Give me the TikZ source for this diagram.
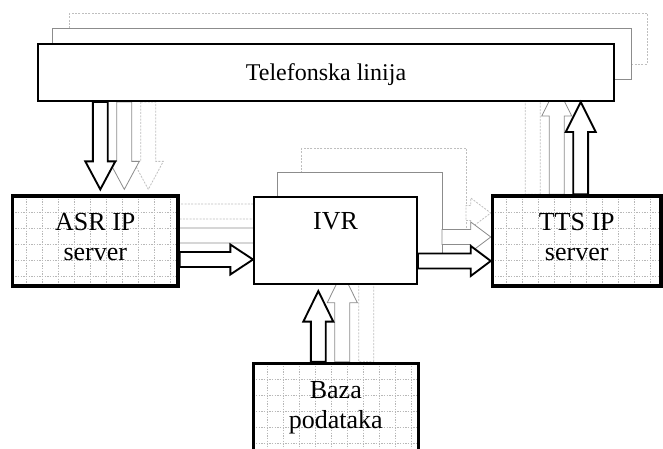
\documentclass[tikz,border=0pt]{standalone}
\usepackage{fontspec}
\setmainfont{Liberation Serif}
\usetikzlibrary{calc,backgrounds}

% 空心块状箭头:#2 起点,#3 箭尖,#4 箭头长度
\newcommand{\blockarrow}[4][]{%
  \draw[#1] let \p1=(#2), \p2=(#3),
      \n1={veclen(\x2-\x1,\y2-\y1)}, \n2={atan2(\y2-\y1,\x2-\x1)} in
    [shift={(\p1)},rotate=\n2]
    (0pt,-5.6pt) -- ({\n1*1pt-#4},-5.6pt) -- ({\n1*1pt-#4},-11.25pt) -- ({\n1*1pt},0pt)
    -- ({\n1*1pt-#4},11.25pt) -- ({\n1*1pt-#4},5.6pt) -- (0pt,5.6pt) -- cycle;}

\begin{document}
\begin{tikzpicture}
  [x=0.75pt,y=0.75pt,%坐标单位按像素设置
   every node/.style={font=\fontsize{18pt}{22.5pt}\selectfont},
   block/.style={draw,fill=white,line width=1.5pt,inner sep=0pt},%白底黑框
   big text/.style={font=\fontsize{19.5pt}{22.5pt}\selectfont},
   gridline/.style={black!28,line width=0.5pt,dash pattern=on 1pt off 1pt},
   grid block/.style={block,big text,line width=2.4pt,align=center,minimum height=67.5pt,
     text height=34.5pt,text depth=4.5pt,%粗框并带网格底纹
     path picture={
       \foreach \i in {0,...,9}
         \draw[gridline] ($(path picture bounding box.north west)+(14+16*\i,0)$) -- ++(0,-100);
       \foreach \j in {1,...,5}
         \draw[gridline] ($(path picture bounding box.north west)+(0,-16*\j)$) -- ++(180,0);
     }},
   main arrow/.style={draw=black,line width=1.4pt,fill=white},
   ghost/.style={draw=black!45,line width=0.6pt,fill=white},%灰色副本
   faint ghost/.style={ghost,draw=black!25,dash pattern=on 1.5pt off 1pt}]

  \useasboundingbox (0,0) rectangle (663,449);

  % 方框
  \node[block,minimum width=432pt,minimum height=42.75pt,text height=12pt,text depth=0pt]
    (tel) at (326,376.5) {Telefonska linija};
  \node[grid block,minimum width=124pt]   (asr)  at (95.3,208)  {ASR IP\\server};
  \node[grid block,minimum width=126.5pt] (tts)  at (576.7,208) {TTS IP\\server};
  \node[block,big text,minimum width=122.25pt,minimum height=65.25pt,text height=12pt,text depth=27.8pt]
    (ivr) at (335.5,208.5) {IVR};
  \node[grid block,minimum width=123.75pt] (baza) at (335.8,40.7) {Baza\\podataka};

  % 箭头端点
  \coordinate (ta)       at ($(tel.south -| asr.north)+(5,0)$);
  \coordinate (ta tip)   at ($(asr.north)+(5,5)$);
  \coordinate (ta')      at ($(ta)+(24,0)$);
  \coordinate (ta' tip)  at ($(ta tip)+(24,0)$);
  \coordinate (ta'')     at ($(ta)+(48,0)$);
  \coordinate (ta'' tip) at ($(ta tip)+(48,0)$);

  \coordinate (ai)       at ($(asr.east)+(0,-18.5)$);
  \coordinate (ai tip)   at (ivr.west |- ai);
  \coordinate (ai')      at ($(ai)+(0,24)$);
  \coordinate (ai' tip)  at ($(ai tip)+(24,24)$);
  \coordinate (ai'')     at ($(ai)+(0,48)$);
  \coordinate (ai'' tip) at ($(ai tip)+(48,48)$);

  \coordinate (it)       at ($(ivr.east)+(0,-20.5)$);
  \coordinate (it tip)   at (tts.west |- it);
  \coordinate (it')      at ($(it)+(24,24)$);
  \coordinate (it' tip)  at (tts.west |- it');
  \coordinate (it'')     at ($(it)+(48,48)$);
  \coordinate (it'' tip) at (tts.west |- it'');

  \coordinate (tt)       at ($(tts.north)+(4,0)$);
  \coordinate (tt tip)   at (tel.south -| tt);
  \coordinate (tt')      at ($(tt)+(-24,0)$);
  \coordinate (tt' tip)  at ($(tt tip)+(-24,16)$);
  \coordinate (tt'')     at ($(tt)+(-48,0)$);
  \coordinate (tt'' tip) at ($(tt tip)+(-48,32)$);

  \coordinate (bi)       at ($(baza.north)+(-17.5,0)$);
  \coordinate (bi tip)   at ($(ivr.south -| bi)+(0,-6)$);
  \coordinate (bi')      at ($(bi)+(24,0)$);
  \coordinate (bi' tip)  at ($(bi tip)+(24,19)$);
  \coordinate (bi'')     at ($(bi)+(48,0)$);
  \coordinate (bi'' tip) at ($(bi tip)+(48,38)$);

  % 主箭头
  \foreach \a/\h in {ta/21pt,ai/17pt,it/15pt,tt/22.5pt,bi/23pt}
    \blockarrow[main arrow]{\a}{\a\space tip}{\h};

  \begin{scope}[on background layer]
    % 后面的副本
    \draw[faint ghost] ($(tel.north west)+(32,30)$) rectangle ($(tel.south east)+(32,38)$);
    \draw[ghost]       ($(tel.north west)+(15,15)$) rectangle ($(tel.south east)+(16,23)$);
    \draw[faint ghost] ($(ivr.north west)+(48,48)$) rectangle ($(ivr.south east)+(48,48)$);
    \draw[ghost]       ($(ivr.north west)+(24,24)$) rectangle ($(ivr.south east)+(24,24)$);
    \foreach \a/\h in {ta/21pt,ai/17pt,it/15pt,tt/22.5pt,bi/23pt}
      \blockarrow[faint ghost]{\a''}{\a''\space tip}{\h};
    \foreach \a/\h in {ta/21pt,ai/17pt,it/15pt,tt/22.5pt,bi/23pt}
      \blockarrow[ghost]{\a'}{\a'\space tip}{\h};
  \end{scope}
\end{tikzpicture}
\end{document}
